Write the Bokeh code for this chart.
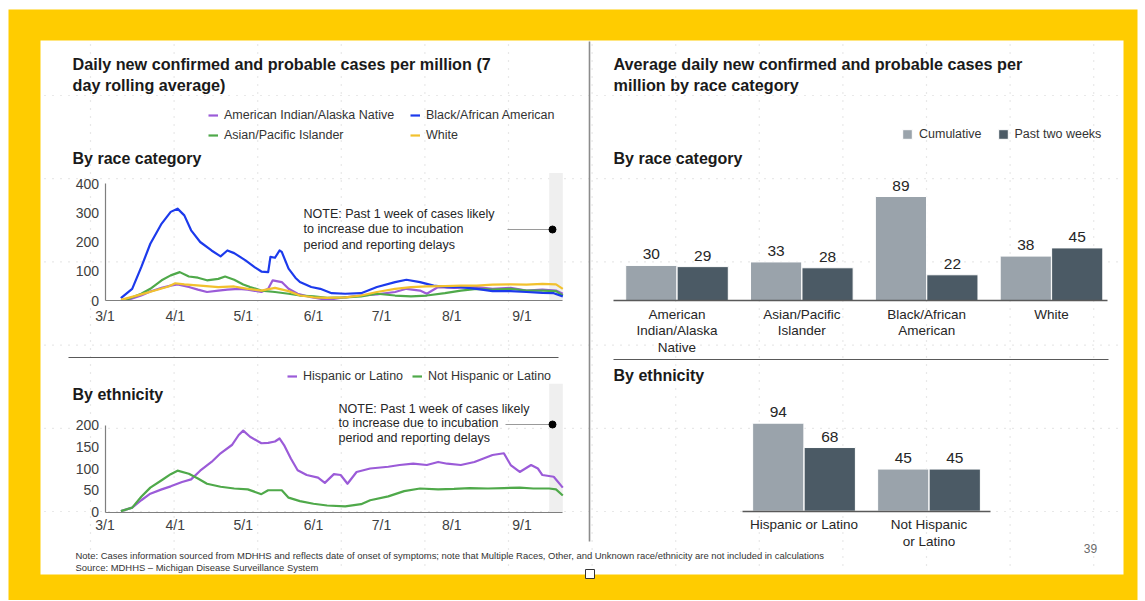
import pandas as pd
from bokeh.plotting import figure
from bokeh.models import (Range1d, LinearAxis, DatetimeAxis, FixedTicker, Legend,
                          LegendItem, ColumnDataSource)
from bokeh.transform import dodge
from bokeh.core.properties import value
from bokeh.embed import file_html
from bokeh.resources import INLINE

FONT = "Liberation Sans"
START = pd.Timestamp("2020-03-01")

# ---------------- data: 7-day rolling average per million, by race (days after 3/1) -------------
aian_days = [10, 16, 20, 25, 29, 32, 37, 41, 45, 50, 54, 59, 63, 69, 72, 74, 78, 81, 85, 91, 98,
             106, 113, 120, 128, 133, 139, 142, 147, 154, 164, 171, 179, 186, 193, 199, 202]
aian_vals = [2, 17, 31, 43, 51, 55, 46, 37, 29, 34, 37, 40, 37, 29, 40, 69, 63, 40, 23, 11, 2,
             11, 17, 21, 29, 40, 34, 23, 46, 43, 46, 40, 43, 34, 37, 34, 23]

black_days = [7, 12, 16, 20, 25, 29, 32, 35, 38, 42, 47, 51, 54, 57, 62, 66, 69, 72, 73, 75, 77, 78,
              81, 84, 86, 91, 95, 100, 106, 113, 120, 128, 133, 139, 145, 151, 157, 164, 171, 179,
              186, 193, 198, 202]
black_vals = [8, 40, 114, 194, 263, 303, 314, 291, 240, 200, 171, 151, 171, 162, 137, 114, 99, 97,
              149, 146, 171, 166, 109, 78, 63, 46, 40, 25, 23, 25, 46, 63, 71, 63, 51, 46, 46, 40,
              32, 32, 29, 26, 25, 14]

asian_days = [9, 16, 20, 25, 29, 33, 37, 41, 45, 50, 53, 57, 61, 64, 69, 75, 81, 86, 92, 98, 106,
              113, 120, 128, 135, 142, 150, 157, 164, 171, 179, 186, 193, 199, 202]
asian_vals = [2, 23, 40, 69, 86, 97, 82, 78, 69, 74, 82, 71, 55, 46, 34, 29, 23, 17, 14, 9, 11,
              14, 23, 17, 14, 17, 25, 34, 40, 37, 40, 34, 34, 32, 17]

white_days = [7, 16, 22, 28, 31, 35, 42, 50, 57, 63, 69, 75, 81, 86, 92, 98, 106, 113, 120, 128,
              135, 142, 150, 157, 164, 171, 179, 186, 193, 199, 202]
white_vals = [2, 21, 34, 48, 59, 55, 51, 46, 48, 40, 34, 43, 32, 17, 11, 9, 11, 17, 29, 40, 46,
              48, 49, 51, 51, 54, 55, 54, 57, 55, 40]

# ---------------- data: by ethnicity ----------------
hisp_days = [7, 12, 16, 20, 25, 29, 34, 38, 42, 47, 51, 56, 59, 61, 64, 69, 72, 75, 77, 79, 82, 85,
             89, 94, 97, 101, 104, 107, 111, 117, 125, 130, 136, 142, 147, 151, 157, 163, 167, 171,
             176, 179, 183, 188, 191, 193, 198, 202]
hisp_vals = [2, 10, 27, 42, 52, 59, 69, 75, 95, 115, 135, 154, 177, 187, 173, 158, 159, 162, 169,
             154, 123, 96, 85, 79, 67, 87, 85, 65, 92, 100, 104, 108, 111, 108, 115, 111, 108, 115,
             123, 131, 135, 108, 92, 108, 100, 85, 81, 56]

nonhisp_days = [7, 12, 16, 20, 25, 29, 32, 37, 41, 45, 51, 57, 63, 69, 72, 78, 81, 86, 92, 98, 106,
                113, 117, 125, 132, 139, 147, 154, 161, 169, 176, 183, 189, 196, 199, 202]
nonhisp_vals = [2, 10, 35, 56, 73, 87, 95, 88, 77, 65, 58, 54, 52, 41, 50, 50, 33, 25, 19, 15, 13,
                18, 27, 36, 48, 54, 52, 53, 55, 54, 55, 56, 54, 54, 52, 38]

month_days = [0, 31, 61, 92, 122, 153, 184]
month_labels = ["3/1", "4/1", "5/1", "6/1", "7/1", "8/1", "9/1"]
race_ticks = [0, 100, 200, 300, 400]
eth_ticks = [0, 50, 100, 150, 200]

# ---------------- data: average daily cases per million (bars) ----------------
race_categories = ["American\nIndian/Alaska\nNative", "Asian/Pacific\nIslander",
                   "Black/African\nAmerican", "White"]
race_cumulative = [30, 33, 89, 38]
race_past2w = [29, 28, 22, 45]
eth_categories = ["Hispanic or Latino", "Not Hispanic\nor Latino"]
eth_cumulative = [94, 45]
eth_past2w = [68, 45]

# ---------------- colours ----------------
PURPLE, BLUE, GREEN, YELLOW = "#9b5bd8", "#1c3aec", "#4fa94a", "#f2c12e"
CUM, PAST = "#9aa3ab", "#4b5a65"
FRAME = "#FFCC00"


def dates(days):
    return (START + pd.to_timedelta(days, unit="D")).to_numpy()


def ms(day):
    return (START + pd.Timedelta(days=day)).timestamp() * 1000.0


def span_range(va, pa, vb, pb, p_start, p_end):
    k = (vb - va) / (pb - pa)
    return Range1d(start=va + (p_start - pa) * k, end=va + (p_end - pa) * k)


W, H = 1144, 600
L, T = 0, 0
p = figure(width=W, height=H, x_range=Range1d(L, L + W), y_range=Range1d(T + H, T),
           x_axis_type=None, y_axis_type=None, toolbar_location=None, output_backend="svg",
           min_border=0, outline_line_color=None,
           background_fill_color="white", border_fill_color="white")

# yellow frame and slide area
p.quad(left=[8], right=[1137], top=[9], bottom=[601], fill_color=FRAME, line_color=None)
p.quad(left=[40], right=[1123], top=[40], bottom=[574], fill_color="white", line_color=None)

# faint layout guides
gx = [90 + 83.6 * i for i in range(13)]
gy = [95 + 83.2 * i for i in range(6)]
p.multi_line(xs=[[x, x] for x in gx], ys=[[44, 572] for _ in gx], line_color="#d2d2d2",
             line_width=1.2, line_dash="1 7")
p.multi_line(xs=[[44, 1120] for _ in gy], ys=[[y, y] for y in gy], line_color="#d2d2d2",
             line_width=1.2, line_dash="1 7")

# ---------------- scales for each panel ----------------
last_day = max(black_days)
p.extra_x_ranges["t"] = span_range(ms(0), 104.5, ms(184), 521.5, L, L + W)
p.extra_y_ranges["race"] = span_range(0, 300, 400, 183, T + H, T)
p.extra_y_ranges["eth"] = span_range(0, 511.5, 200, 424.5, T + H, T)
p.extra_x_ranges["bx_r"] = span_range(0, 676.5, 3, 1051, L, L + W)
p.extra_y_ranges["by_r"] = span_range(0, 300, 89, 196, T + H, T)
p.extra_x_ranges["bx_e"] = span_range(0, 803.5, 1, 928.5, L, L + W)
p.extra_y_ranges["by_e"] = span_range(0, 510.7, 94, 422.7, T + H, T)

# shaded "past week" bands
band_l = dates([last_day - 6])
band_r = dates([last_day])
p.quad(left=band_l, right=band_r, bottom=[0], top=[436], x_range_name="t", y_range_name="race",
       fill_color="#efefef", line_color=None)
p.quad(left=band_l, right=band_r, bottom=[0], top=[295], x_range_name="t", y_range_name="eth",
       fill_color="#efefef", line_color=None)

LW = 2.2
kw = dict(x_range_name="t", y_range_name="race", line_width=LW, line_join="round")
r_aian = p.line(dates(aian_days), aian_vals, line_color=PURPLE, **kw)
r_asian = p.line(dates(asian_days), asian_vals, line_color=GREEN, **kw)
r_black = p.line(dates(black_days), black_vals, line_color=BLUE, **kw)
r_white = p.line(dates(white_days), white_vals, line_color=YELLOW, **kw)

kw = dict(x_range_name="t", y_range_name="eth", line_width=LW, line_join="round")
r_hisp = p.line(dates(hisp_days), hisp_vals, line_color=PURPLE, **kw)
r_nonhisp = p.line(dates(nonhisp_days), nonhisp_vals, line_color=GREEN, **kw)


def style_axis(ax, color="#7f7f7f", width=1.2, size="14px", standoff=7, text_color="#404040"):
    ax.axis_line_color = color
    ax.axis_line_width = width
    ax.major_tick_line_color = None
    ax.minor_tick_line_color = None
    ax.major_tick_out = 0
    ax.major_tick_in = 0
    ax.minor_tick_out = 0
    ax.minor_tick_in = 0
    ax.major_label_text_font = FONT
    ax.major_label_text_font_size = size
    ax.major_label_text_color = text_color
    ax.major_label_standoff = standoff


tick_ms = [ms(d) for d in month_days]
for yname, yticks, sto in (("race", race_ticks, 7), ("eth", eth_ticks, 5)):
    xa = DatetimeAxis(x_range_name="t", y_range_name=yname, fixed_location=0,
                      bounds=(ms(0), ms(last_day)), ticker=FixedTicker(ticks=tick_ms),
                      major_label_overrides=dict(zip(tick_ms, month_labels)))
    style_axis(xa, standoff=sto)
    p.add_layout(xa, "below")
    ya = LinearAxis(x_range_name="t", y_range_name=yname, fixed_location=ms(0),
                    bounds=(yticks[0], yticks[-1]), ticker=FixedTicker(ticks=yticks))
    style_axis(ya, standoff=6)
    p.add_layout(ya, "left")

# ---------------- bar charts ----------------
OFF, BW = 0.206, 0.41


def bars(xname, yname, cats, cum, past, lo, hi):
    idx = list(range(len(cats)))
    src = ColumnDataSource(dict(x=idx, cum=cum, past=past,
                                cum_lbl=[str(v) for v in cum], past_lbl=[str(v) for v in past]))
    rc = p.vbar(x=dodge("x", -OFF), top="cum", width=BW, source=src, fill_color=CUM,
                line_color="white", line_width=1, x_range_name=xname, y_range_name=yname)
    rp = p.vbar(x=dodge("x", OFF), top="past", width=BW, source=src, fill_color=PAST,
                line_color="white", line_width=1, x_range_name=xname, y_range_name=yname)
    for off, col in ((-OFF, "cum"), (OFF, "past")):
        p.text(x=dodge("x", off), y=col, text=col + "_lbl", source=src, x_range_name=xname,
               y_range_name=yname, text_align="center", text_baseline="alphabetic", y_offset=-11,
               text_font=value(FONT), text_font_size="15.5px", text_color="#262626")
    ax = LinearAxis(x_range_name=xname, y_range_name=yname, fixed_location=0, bounds=(lo, hi),
                    ticker=FixedTicker(ticks=idx), major_label_overrides=dict(zip(idx, cats)))
    style_axis(ax, color="#595959", width=1.5, size="13.5px", standoff=6, text_color="#262626")
    ax.major_label_text_line_height = 1.1
    p.add_layout(ax, "below")
    return rc, rp


rc_r, rp_r = bars("bx_r", "by_r", race_categories, race_cumulative, race_past2w, -0.508, 3.452)
bars("bx_e", "by_e", eth_categories, eth_cumulative, eth_past2w, -0.492, 1.492)

# ---------------- legends ----------------
def legend(items, x_left, y_bottom, orientation="vertical", glyph=(10, 20), spacing=0):
    lg = Legend(items=items, location=(x_left - L, (T + H) - y_bottom), orientation=orientation,
                glyph_width=glyph[0], glyph_height=glyph[1], label_height=glyph[1],
                label_standoff=6, spacing=spacing, padding=0, margin=0,
                label_text_font=FONT, label_text_font_size="12.5px", label_text_color="#333333",
                background_fill_alpha=0, border_line_alpha=0)
    p.add_layout(lg)


legend([LegendItem(label="American Indian/Alaska Native", renderers=[r_aian]),
        LegendItem(label="Asian/Pacific Islander", renderers=[r_asian])], 208, 145)
legend([LegendItem(label="Black/African American", renderers=[r_black]),
        LegendItem(label="White", renderers=[r_white])], 410, 145)
legend([LegendItem(label="Hispanic or Latino", renderers=[r_hisp]),
        LegendItem(label="Not Hispanic or Latino", renderers=[r_nonhisp])], 287, 386,
       orientation="horizontal", spacing=9)
legend([LegendItem(label="Cumulative", renderers=[rc_r]),
        LegendItem(label="Past two weeks", renderers=[rp_r])], 901, 141,
       orientation="horizontal", glyph=(12, 12), spacing=15)

# ---------------- titles, notes, separators ----------------
def txt(x, y, s, size, bold=False, color="#1a1a1a", lh=1.2, align="left"):
    p.text(x=[x], y=[y], text=[s], text_font=value(FONT), text_font_size=size,
           text_font_style="bold" if bold else "normal", text_color=color,
           text_baseline="middle", text_align=align, text_line_height=lh)


txt(72, 74, "Daily new confirmed and probable cases per million (7\nday rolling average)", "16.2px",
    bold=True, lh=1.12)
txt(613, 74, "Average daily new confirmed and probable cases per\nmillion by race category",
    "16.2px", bold=True, lh=1.12)
txt(72, 157.5, "By race category", "16px", bold=True)
txt(613, 157.5, "By race category", "16px", bold=True)
txt(72, 393.5, "By ethnicity", "16px", bold=True)
txt(613, 375, "By ethnicity", "16px", bold=True)

note = "NOTE: Past 1 week of cases likely\nto increase due to incubation\nperiod and reporting delays"
txt(303, 229, note, "12.5px", color="#262626", lh=1.09)
txt(338, 423, note, "12.5px", color="#262626", lh=1.03)
p.segment(x0=[507, 505], y0=[229, 424], x1=[552, 552], y1=[229, 424], line_color="#9a9a9a",
          line_width=1)
p.scatter(x=[552, 552], y=[229, 424], size=7, fill_color="black", line_color="black")

p.segment(x0=[589], y0=[41], x1=[589], y1=[541], line_color="#8c8c8c", line_width=1.6)
p.segment(x0=[68, 613], y0=[357, 359], x1=[558, 1108], y1=[357, 359], line_color="#595959",
          line_width=1)

txt(75, 561, "Note: Cases information sourced from MDHHS and reflects date of onset of symptoms; "
    "note that Multiple Races, Other, and Unknown race/ethnicity are not included in calculations\n"
    "Source: MDHHS \u2013 Michigan Disease Surveillance System", "9.45px", color="#333333", lh=1.08)
txt(1090, 548, "39", "12px", color="#6b6b6b", align="center")
p.quad(left=[585], right=[594], top=[569], bottom=[578], fill_color="white", line_color="#333333",
       line_width=1)

open("out.html", "w").write(file_html(p, INLINE))
